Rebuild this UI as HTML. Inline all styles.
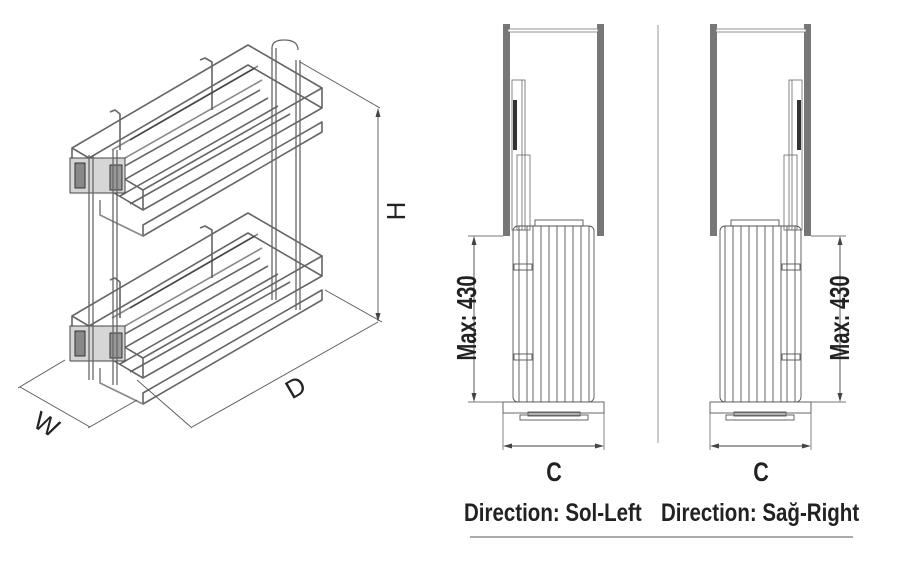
<!DOCTYPE html>
<html><head><meta charset="utf-8"><style>
html,body{margin:0;padding:0;background:#fff;}
svg{display:block;}
text{font-family:"Liberation Sans",sans-serif;fill:#222;}
</style></head><body>
<svg width="900" height="565" viewBox="0 0 900 565" xmlns="http://www.w3.org/2000/svg">
<defs>
<g id="tier" fill="none" stroke="#666" stroke-width="1.6" stroke-linejoin="round">
  <polygon points="72,148 248,45 322,88 143,190"/>
  <polygon points="72,168 248,65 322,108 143,210"/>
  <polyline points="72,148 72,168"/>
  <polyline points="322,88 322,108"/>
  <polyline points="143,190 143,210"/>
  <polygon points="143,225 322,122 322,132 143,236"/>
  <polyline points="100,180 260,90"/>
  <polyline points="110,188 268,98"/>
  <polyline points="120,196 278,106"/>
  <polyline points="130,204 290,114"/>
  <polyline points="112,150 258,66" stroke="#888"/>
  <polyline points="125,158 262,80" stroke="#888"/>
  <polyline points="100,200 100,215 143,236" stroke="#888"/>
  <rect x="70" y="158" width="55" height="35" fill="#d6d6d6" stroke="#444" stroke-width="1"/>
  <rect x="75" y="163" width="10" height="25" fill="#888" stroke="#333" stroke-width="1"/>
  <rect x="110" y="165" width="12" height="25" fill="#999" stroke="#333" stroke-width="1"/>
  <polyline points="200,60 205,58 212,62 212,110"/>
  <polyline points="110,112 115,110 120,114 120,150"/>
  <line x1="130" y1="140" x2="255" y2="68" stroke="#444" stroke-width="1.5"/>
</g>
<g id="cab">
  <rect x="503" y="24" width="7" height="212" fill="#777"/>
  <rect x="597" y="24" width="7" height="212" fill="#777"/>
  <rect x="508" y="29" width="90" height="3" fill="#fff" stroke="#777" stroke-width="0.8"/>
  <g fill="none" stroke="#666" stroke-width="0.8">
    <rect x="512" y="80" width="13" height="150"/>
    <rect x="517" y="155" width="13" height="75"/>
    <line x1="522" y1="80" x2="522" y2="230"/>
  </g>
  <rect x="513" y="100" width="4" height="50" fill="#333"/>
  <g fill="none" stroke="#555" stroke-width="0.9">
    <rect x="513" y="226" width="81" height="176" rx="5"/>
    <rect x="535" y="220" width="48" height="6"/>
    <line x1="519" y1="226" x2="519" y2="402"/>
    <line x1="527" y1="226" x2="527" y2="402"/>
    <line x1="533" y1="226" x2="533" y2="402"/>
    <line x1="541" y1="226" x2="541" y2="402"/>
    <line x1="549" y1="226" x2="549" y2="402"/>
    <line x1="557" y1="226" x2="557" y2="402"/>
    <line x1="565" y1="226" x2="565" y2="402"/>
    <line x1="573" y1="226" x2="573" y2="402"/>
    <line x1="581" y1="226" x2="581" y2="402"/>
    <line x1="589" y1="226" x2="589" y2="402"/>
    <rect x="514" y="264" width="18" height="6"/>
    <rect x="514" y="354" width="18" height="6"/>
    <rect x="503" y="402" width="101" height="11" fill="#fff"/>
    <rect x="520" y="415" width="68" height="5"/>
    <rect x="528" y="412" width="52" height="4"/>
    <line x1="468" y1="236" x2="503" y2="236" stroke="#777"/>
    <line x1="468" y1="402" x2="503" y2="402" stroke="#777"/>
    <line x1="474" y1="238" x2="474" y2="400" stroke="#444"/>
    <line x1="503" y1="413" x2="503" y2="450" stroke="#777"/>
    <line x1="604" y1="413" x2="604" y2="450" stroke="#777"/>
    <line x1="505" y1="446" x2="602" y2="446" stroke="#444"/>
  </g>
  <path d="M474 236 l-2.5 9 h5z M474 402 l-2.5 -9 h5z M503 446 l9 -2.5 v5z M604 446 l-9 -2.5 v5z" fill="#444"/>
</g>
</defs>

<use href="#tier"/>
<use href="#tier" transform="translate(0,168)"/>
<g fill="none" stroke="#666" stroke-width="1.3">
  <line x1="89" y1="155" x2="89" y2="380"/><line x1="93" y1="155" x2="93" y2="380"/>
  <line x1="113" y1="150" x2="113" y2="385"/><line x1="117" y1="150" x2="117" y2="385"/>
  <line x1="272" y1="48" x2="272" y2="300"/><line x1="276" y1="48" x2="276" y2="300"/>
  <line x1="296" y1="60" x2="296" y2="310"/><line x1="300" y1="60" x2="300" y2="310"/>
  <path d="M272 48 q0 -8 12 -8 q14 0 14 10"/>
</g>
<g stroke="#555" stroke-width="0.9" fill="none">
  <line x1="300" y1="62" x2="380" y2="108"/>
  <line x1="325" y1="290" x2="382" y2="322"/>
  <line x1="378" y1="110" x2="378" y2="320"/>
  <line x1="192" y1="427" x2="378" y2="322"/>
  <line x1="137" y1="380" x2="192" y2="428"/>
  <line x1="20" y1="387" x2="90" y2="427"/>
  <line x1="65" y1="360" x2="18" y2="388"/>
  <line x1="137" y1="400" x2="88" y2="428"/>
</g>
<path d="M378 108 l-2.5 9 h5z M378 322 l-2.5 -9 h5z" fill="#444"/>
<text transform="translate(405,211) rotate(-90)" font-size="26" text-anchor="middle">H</text>
<text transform="translate(300,395) rotate(-30)" font-size="26" text-anchor="middle">D</text>
<text transform="translate(42,432) rotate(30)" font-size="26" text-anchor="middle">W</text>

<use href="#cab"/>
<use href="#cab" transform="translate(1314,0) scale(-1,1)"/>
<line x1="658" y1="25" x2="658" y2="443" stroke="#999" stroke-width="1"/>
<g font-weight="bold" fill="#333">
<text transform="translate(476,318) rotate(-90) scale(0.72,1)" font-size="28" text-anchor="middle" fill="#333">Max: 430</text>
<text transform="translate(849,318) rotate(-90) scale(0.72,1)" font-size="28" text-anchor="middle" fill="#333">Max: 430</text>
<text transform="translate(554,481) scale(0.8,1)" font-size="27" text-anchor="middle" fill="#333">C</text>
<text transform="translate(761,481) scale(0.8,1)" font-size="27" text-anchor="middle" fill="#333">C</text>
</g>
<text transform="translate(464,521) scale(0.82,1)" font-size="25" font-weight="bold" fill="#111">Direction: Sol-Left</text>
<text transform="translate(661,521) scale(0.82,1)" font-size="25" font-weight="bold" fill="#111">Direction: Sağ-Right</text>
<line x1="470" y1="537" x2="853" y2="537" stroke="#555" stroke-width="1"/>
</svg>
</body></html>
